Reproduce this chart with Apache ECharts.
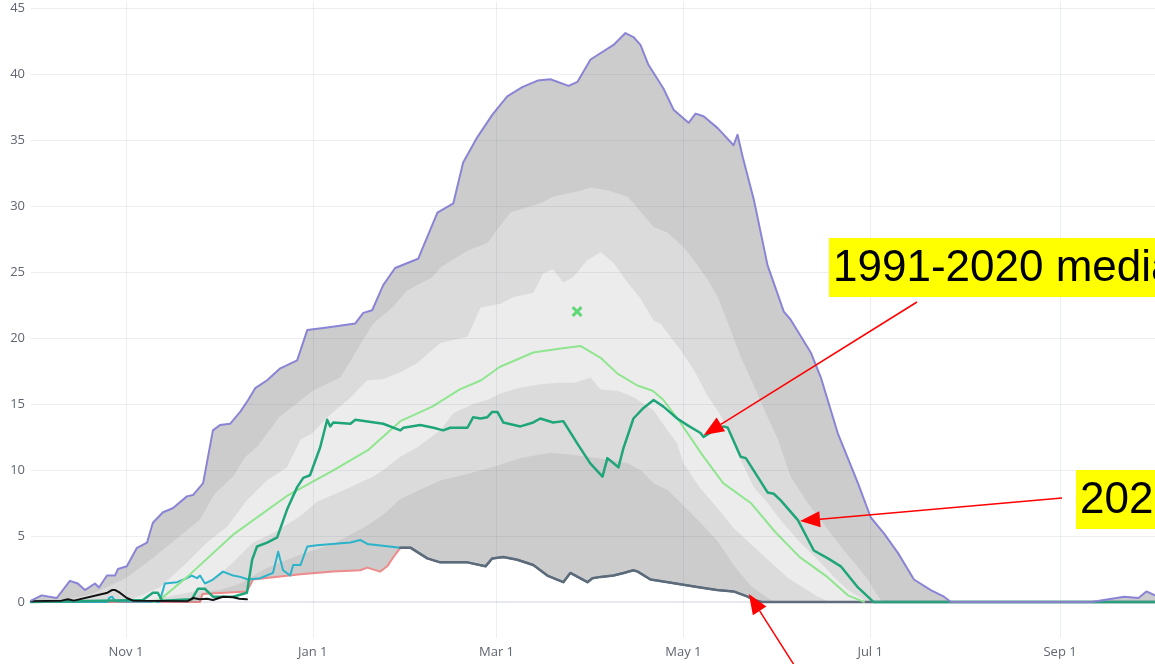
<!DOCTYPE html>
<html>
<head>
<meta charset="utf-8">
<script src="https://cdn.jsdelivr.net/npm/echarts@6/dist/echarts.min.js"></script>
<style>
html,body{margin:0;padding:0;background:#fff;}
#chart{width:1155px;height:664px;}
</style>
</head>
<body>
<div id="chart"></div>
<script>
// x = day of water year (0 = Oct 1), y = snow water equivalent
const xTickDays = [31, 92, 152, 213, 274, 336];
const xTickLabels = ['Nov 1', 'Jan 1', 'Mar 1', 'May 1', 'Jul 1', 'Sep 1'];
const yTicks = [0, 5, 10, 15, 20, 25, 30, 35, 40, 45];

const maxPts = [[0,0.1],[3.5,0.5],[8.4,0.3],[12.7,1.6],[15.3,1.4],[17.6,0.9],[20.9,1.4],[22.2,1.1],[24.8,2],[27.4,2],[28.4,2.5],[31.3,2.7],[34.6,4.1],[37.9,4.5],[39.8,6],[43.1,6.8],[46.3,7.1],[50.9,8],[52.9,8.1],[56.2,9],[59.4,13],[61.7,13.4],[65,13.5],[68.3,14.4],[70.9,15.3],[73.2,16.2],[77.1,16.8],[81.4,17.7],[86.9,18.3],[90.2,20.6],[96.7,20.8],[105.9,21.1],[108.5,21.9],[111.4,22.1],[115,24],[118.9,25.3],[126.4,26],[132.7,29.5],[137.9,30.2],[141.1,33.3],[145.7,35.2],[150.6,36.9],[155.5,38.3],[160.4,39],[165.4,39.5],[169.6,39.6],[175.5,39.1],[178.4,39.4],[182.7,41.1],[190.2,42.2],[194.1,43.1],[196.7,42.8],[199,42.2],[201.6,40.7],[206.5,38.9],[209.8,37.3],[214.7,36.3],[217,37],[219.6,36.8],[224.2,35.9],[229.4,34.6],[230.7,35.4],[232.4,33.7],[236,30.5],[240.5,25.5],[245.8,22],[248,21.4],[254.6,18.9],[257.9,17],[263.4,12.8],[270,9],[274.2,6.4],[278.5,5.2],[283.1,3.7],[288.3,1.7],[293.8,0.9],[298.1,0.4],[300.4,0],[346.2,0],[357,0.4],[361.6,0.3],[364.2,0.8],[367,0.5]];

const p90Pts = [[0,0],[10,0.1],[20,0.6],[31,1.8],[38,3],[46,4.5],[55,6.2],[60,8.2],[66,9.5],[70,11],[74,11.8],[81,14],[92,16],[101,17],[106.5,19.1],[111.7,21.1],[118,22.3],[122.8,23.6],[131,24.6],[134,25.4],[142.5,26.6],[149,27.2],[156.5,29.5],[166.3,30.2],[170.5,30.7],[178.4,31.1],[182.7,31.4],[188.2,31.2],[194.8,30.7],[196.7,30.2],[203.3,28.4],[207.8,28],[213,26.9],[216.4,25.9],[221,24.4],[224.2,23.1],[227.5,21.2],[231.7,18.6],[236,16.4],[240.5,14],[243.9,12.3],[248,9.5],[253.6,7.5],[257.9,6.2],[264.4,4.2],[268.7,3],[273.3,1.7],[275.2,0.9],[277.5,0.15],[280,0],[367,0]];

const p70Pts = [[0,0],[25,0.05],[33,0.2],[42,1.1],[51,3],[57.5,4.5],[64,5.7],[70.5,7.7],[77,9.2],[83.6,10.2],[88,12.3],[92,12.8],[96.7,14],[104.3,15.5],[109.8,16.8],[115,16.9],[120.6,17.4],[126.1,18.1],[133.6,19.6],[142.5,20.1],[146.8,22.3],[153.3,22.6],[157.5,23.1],[164,23.4],[167.3,24.9],[170.5,25.2],[173.8,24.2],[177,24.6],[181.7,25.9],[186,26.5],[190.2,25.7],[194.8,24.2],[199,23],[203.3,21.3],[205.5,21.1],[212,19.1],[216.4,17.6],[220.9,15.6],[225,14.2],[228.4,12.6],[231.7,10.8],[236,8.7],[240.5,7.5],[244.8,6.2],[250.4,4.7],[256.9,3.2],[262.2,1.9],[266.7,0.9],[271,0.3],[273,0],[367,0]];

const p30Pts = [[0,0],[35,0],[44.4,0.4],[51,0.7],[55.2,0.9],[60.7,1.9],[66,3],[72.5,4.5],[79,5.2],[87.9,6.5],[93.4,7.6],[104.3,8.7],[111.7,9.5],[115,10],[120.6,11],[126,11.7],[133.6,13],[137.9,14.3],[144.4,15],[149,15.3],[153.3,15.8],[158.8,16.2],[166.3,16.5],[172.2,16.6],[177.5,16.6],[182.7,17],[186,16.1],[191.5,16],[197,15.5],[203.3,14.5],[207.8,13],[211,12],[213,10.5],[218.6,8.6],[224.2,7.1],[229.4,5.6],[235,4.4],[241.5,3],[247.3,1.8],[251.3,1.2],[256.9,0.4],[261,0],[367,0]];

const p10Pts = [[0,0],[52,0],[56,0.7],[61.7,0.9],[68.3,1.4],[77.1,2.6],[87.9,3.6],[98.7,4.4],[109.8,5.8],[115,6.6],[120.6,7.8],[127.1,8.5],[133.6,9.2],[142.5,9.7],[153.3,10.4],[159.8,10.9],[169.6,11.3],[175.2,11.2],[181.7,11],[188.2,10.8],[194.8,10.5],[199,10],[203.3,9],[207.8,8.5],[213,7.3],[218.6,6],[224.2,4.6],[229.4,2.8],[235,1.2],[240.5,0.3],[243,0],[367,0]];

// minimum: early part (red), later part (slate)
const redPts = [[0,0],[55.2,0],[56,0.6],[70.5,0.8],[72.5,1.7],[88,2.1],[98.7,2.3],[107.5,2.4],[109.8,2.6],[114,2.3],[116.3,2.7],[118.3,3.4],[120.6,4.1]];
const slatePts = [[120.6,4.1],[124,4.1],[129.4,3.3],[133.6,3.0],[142.5,3.0],[148.4,2.7],[150.6,3.3],[154.2,3.4],[158.8,3.2],[164,2.8],[168.6,2.0],[173.8,1.5],[176.1,2.2],[181.7,1.5],[183.3,1.8],[186,1.9],[190.2,2.0],[193.5,2.2],[196.7,2.4],[198.1,2.3],[202.3,1.7],[208,1.5],[213,1.3],[218.6,1.1],[224,0.9],[229.4,0.8],[234,0.4],[236,0.15],[238.5,0],[367,0]];

const cyanPts = [[0,0],[25,0],[25.5,0.3],[26.5,0.4],[27.5,0.05],[42,0],[43.7,1.4],[47.7,1.5],[50.9,1.8],[52.5,2],[54.2,1.8],[55.2,2],[56.8,1.4],[59.4,1.7],[62.7,2.3],[66,2],[68.3,1.9],[70.9,1.7],[74.8,1.8],[79,2.2],[80.7,3.8],[82.3,2.4],[84.6,2.0],[85.6,2.8],[88,2.8],[90.2,4.2],[93.4,4.3],[104.3,4.5],[107.5,4.7],[109.8,4.4],[117,4.2],[120.6,4.1]];

const medianPts = [[40,0],[42,0.15],[51,1.9],[66,5.1],[84,8.1],[99,10],[110,11.5],[120.6,13.7],[131,14.8],[140,16.1],[147,16.8],[153,17.8],[164,18.9],[173,19.2],[179.4,19.4],[186,18.5],[191.5,17.3],[198,16.4],[203,16.0],[206.5,15.3],[212,13.6],[219,11.2],[226,9],[235,7.5],[243,5.3],[251,3.4],[260,1.9],[266.7,0.5],[270,0.2],[272,0]];

const wy2022Pts = [[0,0],[36.5,0.15],[39.8,0.7],[41.4,0.7],[42.8,0.1],[52.5,0.2],[54.5,1],[56.8,1],[59.4,0.4],[66,0.4],[70.5,0.7],[72.2,3.2],[73.8,4.2],[77.1,4.5],[80.4,4.9],[83.6,7],[86.9,8.7],[88.9,9.4],[91.1,9.6],[94.4,11.7],[96.7,13.8],[97.7,13.3],[98.7,13.6],[104.3,13.5],[105.9,13.8],[115,13.5],[120.6,13],[121.6,13.2],[127.1,13.4],[131.4,13.2],[134.6,13],[136.9,13.2],[142.5,13.2],[144.4,14],[146.8,13.9],[149,14],[150.6,14.4],[152.3,14.4],[154.2,13.6],[159.8,13.3],[164,13.6],[166.3,13.9],[170.5,13.6],[173.8,13.7],[178.4,12],[182.6,10.5],[186.6,9.5],[188.2,10.9],[191.8,10.2],[193.5,11.7],[196.7,13.9],[200,14.7],[203.3,15.3],[206.5,14.8],[211,13.9],[214.3,13.4],[218.6,12.8],[219.6,12.5],[222.9,13],[226.2,13.3],[227.5,13.2],[231.7,11],[233.4,10.9],[240.5,8.3],[242.5,8.2],[244.8,7.7],[250.4,6.2],[255.6,3.9],[260.2,3.3],[264.4,2.7],[270,1.1],[274.2,0.2],[275,0],[367,0]];

const currentPts = [[0,0.05],[10,0.1],[12,0.2],[14,0.1],[25,0.7],[26.4,0.9],[27.5,0.9],[29,0.7],[31.3,0.3],[33.3,0.1],[51,0.05],[53,0.3],[55,0.2],[57.5,0.25],[59.4,0.15],[62.7,0.4],[66,0.35],[68,0.25],[70.5,0.2]];

const peakPts = [[178.3, 22.0]];

// annotation targets (data coords)
const notes = [
  {text: '1991-2020 median', target: [219.7, 12.65]},
  {text: '2022', target: [251.1, 6.14]},
  {text: '', target: [234.4, 0.6]}
];

const minPts = redPts.concat(slatePts.slice(1));
const cyanFull = cyanPts.concat(slatePts.slice(1));

function fill(pts, color, z) {
  return {type: 'line', data: pts, symbol: 'none', silent: true, z: z,
    lineStyle: {width: 0, opacity: 0}, areaStyle: {color: color, opacity: 1}};
}
function line(pts, color, width, z) {
  return {type: 'line', data: pts, symbol: 'none', silent: true, z: z,
    lineStyle: {color: color, width: width, join: 'round', cap: 'round'}};
}

const gridColor = 'rgba(110,120,150,0.13)';
const gridSeries = {
  type: 'line', data: [[0, 0]], symbol: 'none', silent: true, z: 2,
  lineStyle: {opacity: 0},
  markLine: {
    silent: true, symbol: 'none', animation: false, label: {show: false},
    lineStyle: {color: gridColor, width: 1, type: 'solid'},
    emphasis: {disabled: true},
    data: yTicks.map(v => ({yAxis: v, lineStyle: v === 0 ? {width: 2, color: 'rgba(110,120,150,0.16)'} : undefined}))
      .concat(xTickDays.map(d => ({xAxis: d})))
  }
};

const chart = echarts.init(document.getElementById('chart'), null, {renderer: 'canvas'});
chart.setOption({
  animation: false,
  backgroundColor: '#ffffff',
  grid: {left: 31, right: 0, top: 1.4, bottom: 26.4, containLabel: false},
  xAxis: {
    type: 'value', min: 0, max: 367,
    axisLine: {show: false}, axisTick: {show: false, customValues: xTickDays},
    splitLine: {show: false},
    axisLabel: {customValues: xTickDays, margin: 8, color: '#5f6670', fontSize: 13, fontFamily: 'Open Sans',
      formatter: v => xTickLabels[xTickDays.indexOf(v)] || ''}
  },
  yAxis: {
    type: 'value', min: -2.7, max: 45.5,
    axisLine: {show: false}, axisTick: {show: false, customValues: yTicks},
    splitLine: {show: false},
    axisLabel: {customValues: yTicks, margin: 6, color: '#5f6670', fontSize: 13, fontFamily: 'Open Sans'}
  },
  series: [
    fill(maxPts, '#cccccc', 1),
    fill(p90Pts, '#dbdbdb', 1),
    fill(p70Pts, '#ececec', 1),
    fill(p30Pts, '#dbdbdb', 1),
    fill(p10Pts, '#cccccc', 1),
    fill(minPts, '#ffffff', 1),
    gridSeries,
    line(minPts, '#ee8a8a', 2, 3),
    line(cyanFull, '#2ab3c9', 2, 3),
    line(slatePts, '#5d6a79', 2.5, 3),
    line(medianPts, '#8fe68f', 2, 3),
    line(wy2022Pts, '#1fa57a', 2.5, 3),
    line(currentPts, '#111111', 2, 3),
    line(maxPts, '#8a84d6', 2, 3),
    {type: 'scatter', data: peakPts, z: 4, silent: true,
      symbol: 'path://M2,0 L5,3 L8,0 L10,2 L7,5 L10,8 L8,10 L5,7 L2,10 L0,8 L3,5 L0,2 Z',
      symbolSize: 11, itemStyle: {color: '#3fd35a'}}
  ]
});

// annotations: yellow labels with red arrows to data points
const boxes = [
  {x: 829, y: 238, h: 59, textX: 833, tail: [917, 302]},
  {x: 1076, y: 470, h: 59, textX: 1080, tail: [1062, 498]},
  {x: null, tail: [796, 668]}
];
const g = [];
boxes.forEach((b, i) => {
  const n = notes[i];
  if (b.x !== null) {
    g.push({type: 'rect', shape: {x: b.x, y: b.y, width: 1155 - b.x + 10, height: b.h}, style: {fill: '#ffff00'}, z: 100});
    g.push({type: 'text', style: {text: n.text, x: b.textX, y: b.y + b.h / 2 + 1, font: '44px "Liberation Sans"', fill: '#000', verticalAlign: 'middle', align: 'left'}, z: 101});
  }
  const tip = chart.convertToPixel({gridIndex: 0}, n.target);
  const tx = b.tail[0], ty = b.tail[1];
  const dx = tip[0] - tx, dy = tip[1] - ty, L = Math.sqrt(dx * dx + dy * dy);
  const ux = dx / L, uy = dy / L, hl = 20, hw = 8;
  const bx = tip[0] - ux * hl, by = tip[1] - uy * hl;
  g.push({type: 'line', shape: {x1: tx, y1: ty, x2: bx, y2: by}, style: {stroke: '#ff0000', lineWidth: 1.5}, z: 100});
  g.push({type: 'polygon', shape: {points: [[tip[0], tip[1]], [bx - uy * hw, by + ux * hw], [bx + uy * hw, by - ux * hw]]}, style: {fill: '#ff0000'}, z: 100});
});
chart.setOption({graphic: g});
</script>
</body>
</html>
